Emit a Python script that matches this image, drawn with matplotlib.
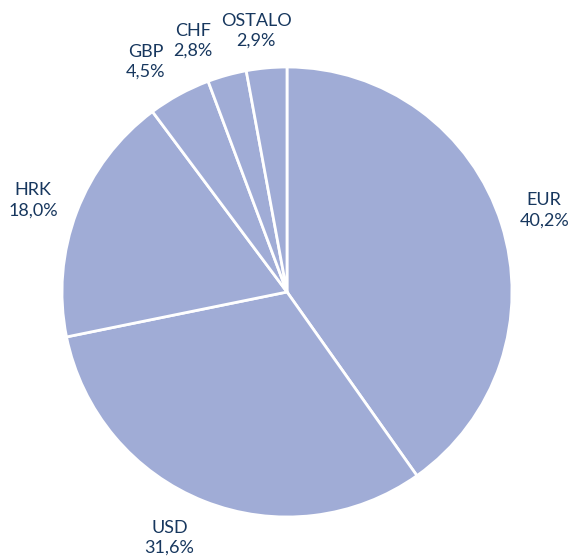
import matplotlib
matplotlib.use("Agg")
import numpy as np
import matplotlib.pyplot as plt

# udjeli po valutama (%)
valute = ["EUR", "USD", "HRK", "GBP", "CHF", "OSTALO"]
udjeli = [40.2, 31.6, 18.0, 4.5, 2.8, 2.9]

boja = "#A0ACD6"
boja_teksta = "#17375E"

oznake = [v + "\n" + ("%.1f" % u).replace(".", ",") + "%" for v, u in zip(valute, udjeli)]

# pomak oznaka (kut u stupnjevima, udaljenost u polumjerima)
pomak_kuta = [0, -4, 1, 3, 5, 1.5]
udaljenost = [1.2, 1.21, 1.2, 1.2, 1.19, 1.17]

fig = plt.figure(figsize=(5.71, 5.58), dpi=100)
ax = fig.add_axes([0, 0, 1, 1])

cx, cy, r = 287, 266, 225
wedges, texts = ax.pie(udjeli, labels=oznake, colors=[boja] * len(udjeli),
                       startangle=90, counterclock=False,
                       center=(cx, cy), radius=r, labeldistance=1.2,
                       wedgeprops=dict(edgecolor="white", linewidth=2),
                       textprops=dict(color=boja_teksta, fontsize=13, family="Lato"))
for w, t, dk, d in zip(wedges, texts, pomak_kuta, udaljenost):
    kut = np.deg2rad((w.theta1 + w.theta2) / 2 + dk)
    t.set_position((cx + d * r * np.cos(kut), cy + d * r * np.sin(kut)))
    t.set_ha("center")
    t.set_va("center")
    t.set_linespacing(1.3)

ax.set_xlim(0, 571)
ax.set_ylim(0, 558)
ax.set_aspect("auto")
ax.axis("off")

fig.savefig("out.png", dpi=100)
